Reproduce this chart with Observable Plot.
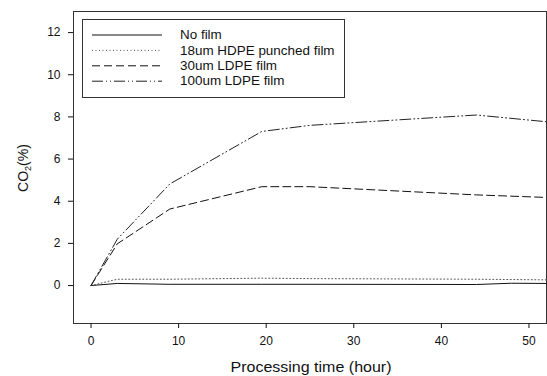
<!DOCTYPE html>
<html><head><meta charset="utf-8">
<script src="https://cdn.jsdelivr.net/npm/d3@7"></script>
<script src="https://cdn.jsdelivr.net/npm/@observablehq/plot@0.6"></script>
<style>
body{margin:0;background:#fff;}
svg{font-family:"Liberation Sans",Arial,sans-serif;}
</style>
</head><body><div id="chart"></div>
<script>
const seriesNames = ["No film", "18um HDPE punched film", "30um LDPE film", "100um LDPE film"];
const timesNoFilm = [0, 3, 9, 19.5, 25, 44, 48, 52];
const noFilm      = [0, 0.1, 0.06, 0.06, 0.06, 0.05, 0.11, 0.1];
const timesHDPE   = [0, 3, 9, 19.5, 25, 44, 52];
const hdpe18      = [0, 0.3, 0.3, 0.35, 0.33, 0.3, 0.27];
const timesLDPE   = [0, 3, 9, 19.5, 25, 44, 52];
const ldpe30      = [0, 1.98, 3.63, 4.69, 4.69, 4.3, 4.18];
const ldpe100     = [0, 2.2, 4.82, 7.31, 7.6, 8.09, 7.77];
const xTicks = [0, 10, 20, 30, 40, 50];
const yTicks = [0, 2, 4, 6, 8, 10, 12];
const dashes = ["none", "1,2.5", "8,4", "11,3,1,3,1,3"];
const strokes = ["#111", "#555", "#111", "#222"];

const rows = [];
const add = (times, vals, k) => times.forEach((t, i) => rows.push({t, v: vals[i], s: seriesNames[k]}));
add(timesNoFilm, noFilm, 0);
add(timesHDPE, hdpe18, 1);
add(timesLDPE, ldpe30, 2);
add(timesLDPE, ldpe100, 3);

const lineMarks = seriesNames.map((name, k) =>
  Plot.line(rows.filter(d => d.s === name), {x: "t", y: "v", stroke: strokes[k], strokeWidth: 1, strokeDasharray: dashes[k]})
);

const plot = Plot.plot({
  width: 547, height: 376,
  marginLeft: 73, marginRight: 1, marginTop: 11, marginBottom: 53,
  style: {fontFamily: '"Liberation Sans", Arial, sans-serif', fontSize: "12px", color: "#111", background: "#fff"},
  x: {domain: [-2, 52], label: null},
  y: {domain: [-1.8, 13], label: null},
  marks: [
    Plot.frame({stroke: "#333", strokeWidth: 1}),
    ...lineMarks,
    Plot.axisX({ticks: xTicks, tickSize: 5, tickPadding: 8, fontSize: 12, label: null}),
    Plot.axisY({ticks: yTicks, tickSize: 5, tickPadding: 8, fontSize: 12, label: null})
  ]
});
document.getElementById("chart").appendChild(plot);

const svg = d3.select(plot);
// axis labels
svg.append("text").attr("x", 311).attr("y", 372).attr("text-anchor", "middle")
  .attr("font-size", 15).attr("fill", "#111")
  .attr("textLength", 161).attr("lengthAdjust", "spacingAndGlyphs")
  .text("Processing time (hour)");
const yl = svg.append("text").attr("transform", "translate(28,168) rotate(-90)")
  .attr("text-anchor", "middle").attr("font-size", 14).attr("fill", "#111");
yl.append("tspan").text("CO");
yl.append("tspan").attr("font-size", 9).attr("dy", 3).text("2");
yl.append("tspan").attr("dy", -3).text("(%)");

// legend
const lg = svg.append("g");
lg.append("rect").attr("x", 82.5).attr("y", 19.5).attr("width", 262).attr("height", 78)
  .attr("fill", "#fff").attr("stroke", "#333");
const lgText = lg.append("g").attr("transform", "translate(180,0) scale(1.12,1)");
seriesNames.forEach((name, k) => {
  const y = 35 + k * 15.4;
  lg.append("line").attr("x1", 92).attr("x2", 162).attr("y1", y).attr("y2", y)
    .attr("stroke", strokes[k]).attr("stroke-dasharray", dashes[k] === "none" ? null : dashes[k]);
  lgText.append("text").attr("x", 0).attr("y", y).attr("dy", "0.35em")
    .attr("text-anchor", "start").attr("font-size", 12).attr("fill", "#111").text(name);
});
</script></body></html>
